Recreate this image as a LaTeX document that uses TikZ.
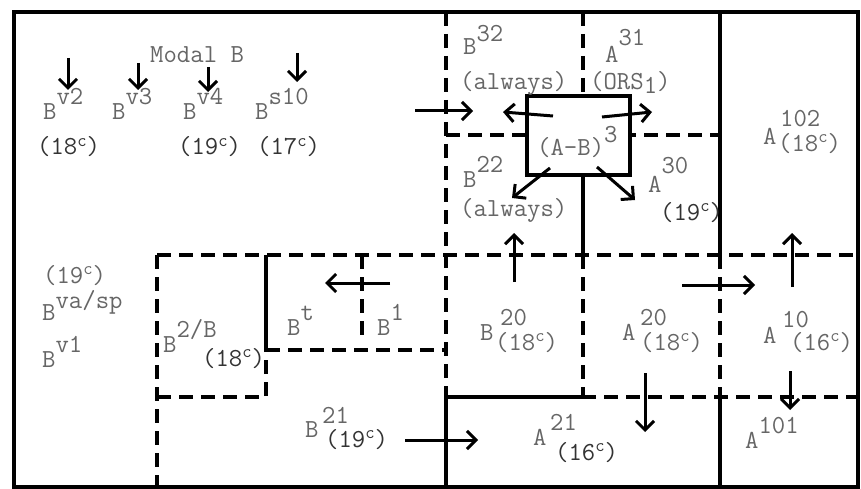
\documentclass[tikz,border=0pt]{standalone}
\usepackage{tikz}
\usetikzlibrary{positioning,arrows.meta}
\newcommand{\typup}[2][15pt]{\raisebox{#1}{#2}}
\newcommand{\cent}{\raisebox{9pt}{\fontsize{18}{18}\selectfont c}}

\begin{document}
\begin{tikzpicture}[x=1pt, y=-1pt,
  txt/.style={text=black!60, font=\fontsize{26}{28}\selectfont\ttfamily, inner sep=0pt, anchor=base west},
  hand/.style={txt, text=black!80},
  wall/.style={line width=3.2pt},
  dashwall/.style={line width=3.2pt, dash pattern=on 14pt off 8pt},
  arr/.style={line width=3pt, -{Straight Barb[length=9pt,width=18pt]}}]
\useasboundingbox (0,0) rectangle (861,489);
\draw[line width=3.8pt] (14,12) rectangle (858,487);
\draw[dashwall] (446,12) -- (446,487);
\draw[dashwall] (446,135) -- (720,135);
\draw[dashwall] (583,12) -- (583,96);
\draw[dashwall] (583,255) -- (583,397);
\draw[dashwall] (157,255) -- (858,255);
\draw[dashwall] (157,255) -- (157,487);
\draw[dashwall] (157,397) -- (266,397) -- (266,350);
\draw[dashwall] (266,350) -- (446,350);
\draw[dashwall] (362,255) -- (362,340);
\draw[dashwall] (582,397) -- (858,397);
\draw[dashwall] (720,255) -- (720,397);
\draw[wall] (720,12) -- (720,255);
\draw[wall] (720,397) -- (720,487);
\draw[wall] (583,175) -- (583,255);
\draw[wall] (266,255) -- (266,350);
\draw[wall] (446,487) -- (446,397) -- (583,397);
\node[draw, line width=3.8pt, fill=white, minimum width=103pt, minimum height=79pt, inner sep=0pt] (abbox) at (578.5,135.5) {};

\draw[arr] (68,58) -- (68,90);
\draw[arr] (138,63) -- (138,90);
\draw[arr] (208,67) -- (208,92);
\draw[arr] (297,53) -- (297,82);
\draw[arr] (415,111) -- (473,111);
\draw[arr] (553,116) -- (503,112);
\draw[arr] (602,117) -- (652,112);
\draw[arr] (550,168) -- (512,198);
\draw[arr] (597,167) -- (635,200);
\draw[arr] (514,282) -- (514,233);
\draw[arr] (792,287) -- (792,233);
\draw[arr] (682,285) -- (755,285);
\draw[arr] (390,283) -- (325,283);
\draw[arr] (645,373) -- (645,432);
\draw[arr] (790,371) -- (790,410);
\draw[arr] (405,440) -- (478,440);

\node[txt] (modal) at (150,63) {Modal B};
\node[txt] (bvtwo) at (43,120) {B\typup{v2}};
\node[txt] (bvthree) at (112,120) {B\typup{v3}};
\node[txt] (bvfour) at (183,120) {B\typup{v4}};
\node[txt] (bsten) at (255,120) {B\typup{s10}};
\node[hand] (bvtwoage) at (37,155) {(18\cent)};
\node[hand] (bvfourage) at (178,155) {(19\cent)};
\node[hand] (bstenage) at (257,155) {(17\cent)};

\node[txt] (bthirtytwo) at (463,55) {B\typup[13pt]{32}};
\node[txt] (alwaysup) at (460,90) {(always)};
\node[txt] (athirtyone) at (605,63) {A\typup[17pt]{31}};
\node[txt] (ors) at (590,90) {(ORS\raisebox{-4pt}{1})};
\node[txt] (ablab) at (537,156) {(A-B)\typup[13pt]{3}};
\node[txt] (btwentytwo) at (463,187) {B\typup[14pt]{22}};
\node[txt] (alwaysdown) at (460,216) {(always)};
\node[txt] (athirty) at (648,192) {A\typup[18pt]{30}};
\node[hand] (athirtyage) at (660,220) {(19\cent)};
\node[txt] (aonetwo) at (763,145) {A};
\node[txt] (aonetwosup) at (780,127) {102};
\node[txt] (aonetwoage) at (778,152) {(18\cent)};

\node[txt] (bvaspage) at (43,283) {(19\cent)};
\node[txt] (bvasp) at (42,320) {B\typup[12pt]{va/sp}};
\node[txt] (bvone) at (42,367) {B\typup{v1}};
\node[txt] (btwob) at (163,352) {B\typup{2/B}};
\node[hand] (btwobage) at (202,366) {(18\cent)};
\node[txt] (bt) at (287,335) {B\typup{t}};
\node[txt] (bone) at (377,335) {B\typup{1}};
\node[txt] (btwentyone) at (305,437) {B};
\node[txt] (btwentyonesup) at (322,423) {21};
\node[hand] (btwentyoneage) at (325,447) {(19\cent)};
\node[txt] (btwenty) at (480,340) {B};
\node[txt] (btwentysup) at (500,325) {20};
\node[txt] (btwentyage) at (495,350) {(18\cent)};
\node[txt] (atwenty) at (622,340) {A};
\node[txt] (atwentysup) at (640,325) {20};
\node[txt] (atwentyage) at (640,350) {(18\cent)};
\node[txt] (aten) at (763,343) {A};
\node[txt] (atensup) at (782,327) {10};
\node[txt] (atenage) at (790,350) {(16\cent)};
\node[txt] (atwentyone) at (533,445) {A};
\node[txt] (atwentyonesup) at (550,430) {21};
\node[hand] (atwentyoneage) at (555,460) {(16\cent)};
\node[txt] (aoneohone) at (745,448) {A\typup{101}};
\end{tikzpicture}
\end{document}
